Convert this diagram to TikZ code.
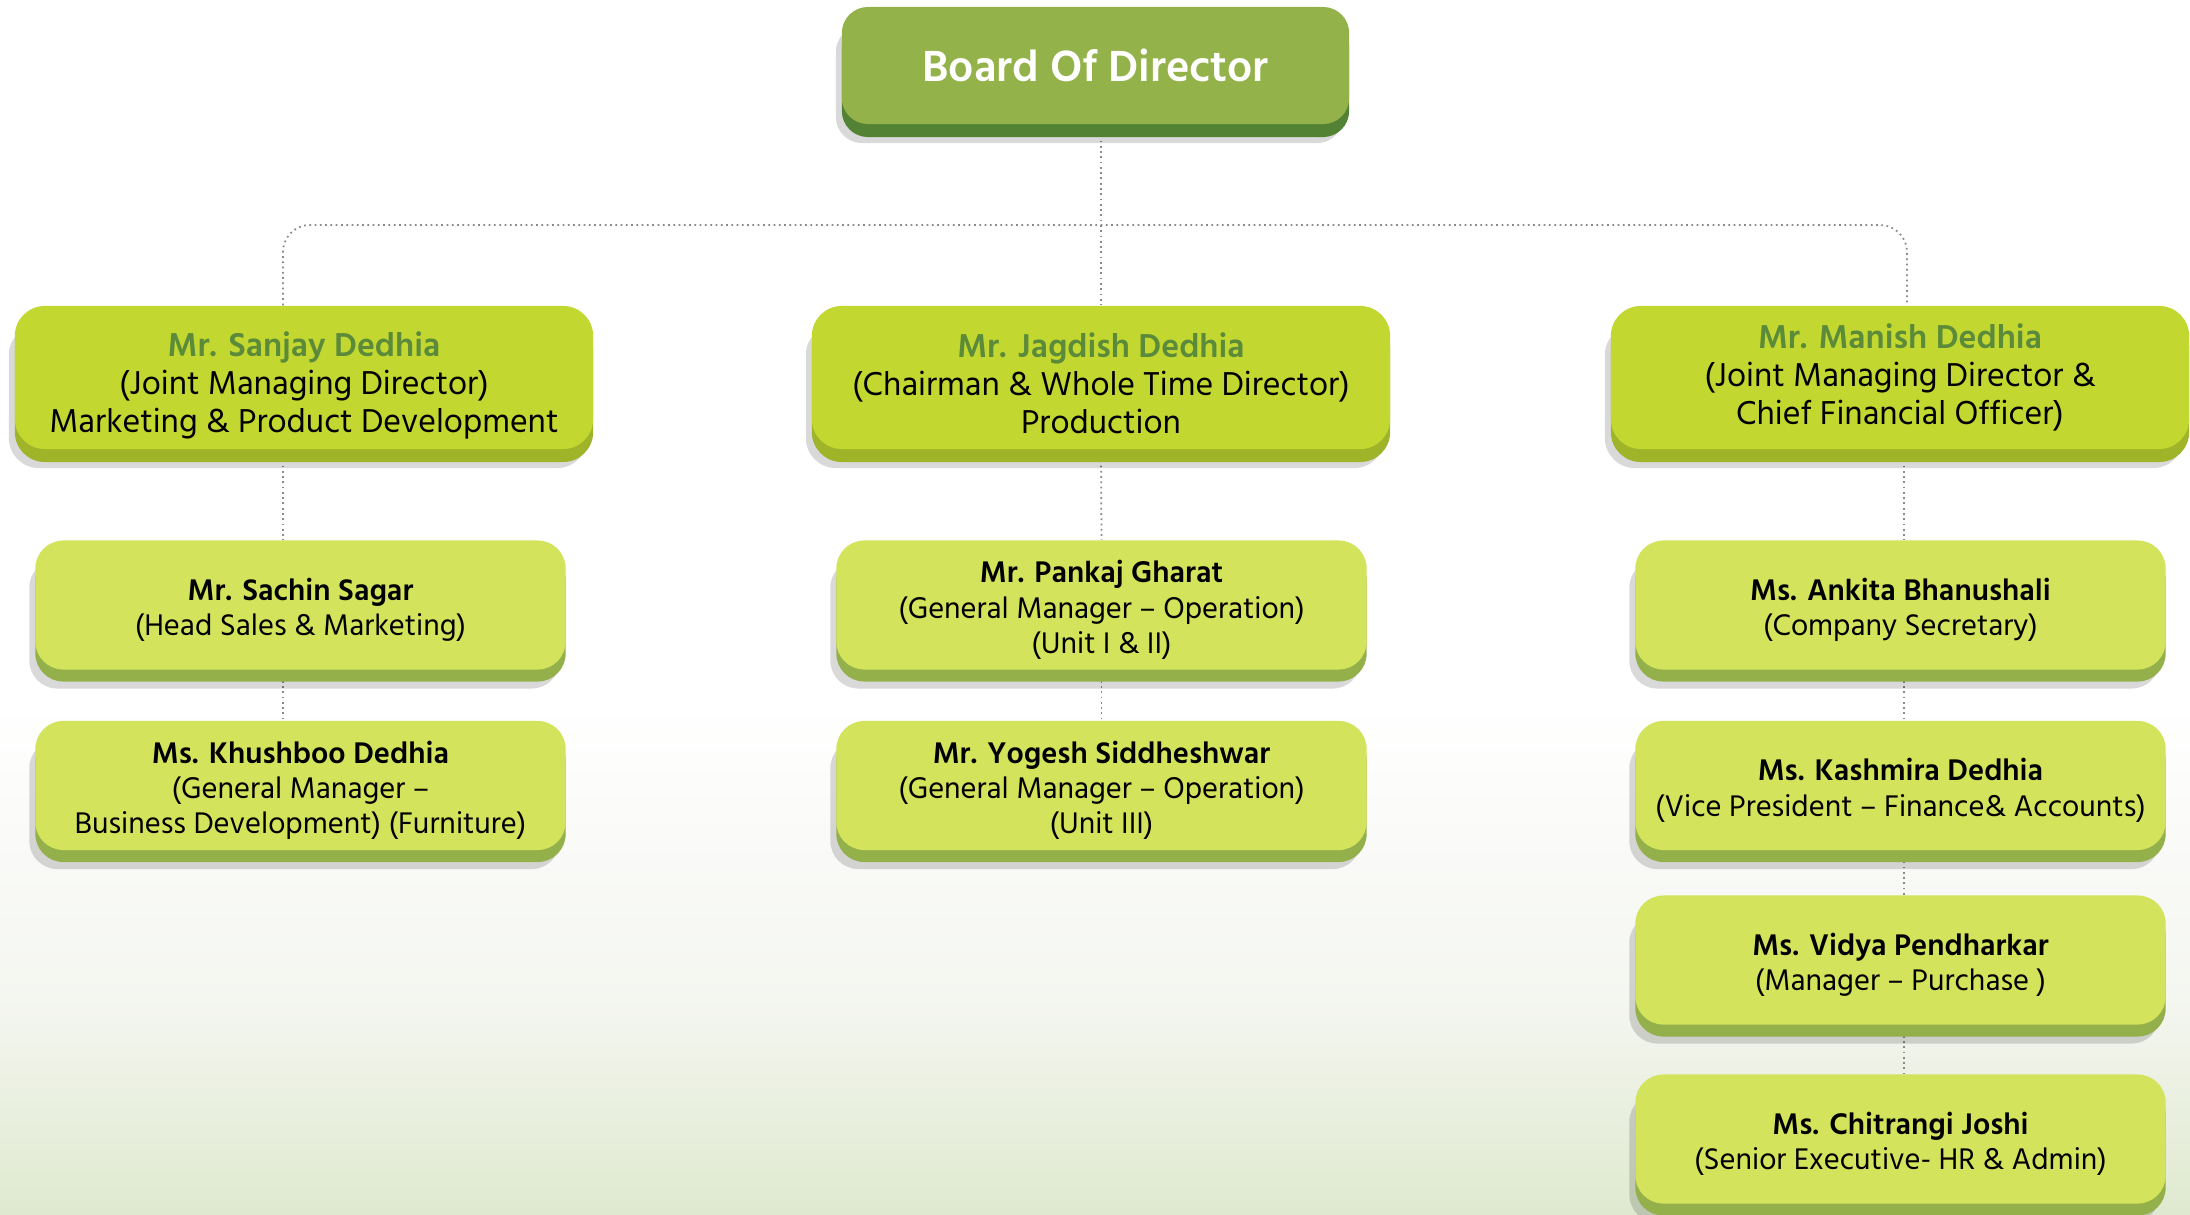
\documentclass[tikz,border=0pt]{standalone}
\usepackage{fontspec}
\setmainfont{Hind Madurai}[BoldFont={Hind Madurai SemiBold}]
\usepackage{tikz}
\usetikzlibrary{shadows,backgrounds}
\definecolor{boardfill}{HTML}{93B24A}
\definecolor{boardband}{HTML}{548235}
\definecolor{headfill}{HTML}{C2D72F}
\definecolor{headband}{HTML}{A0B42A}
\definecolor{stafffill}{HTML}{D3E35B}
\definecolor{staffband}{HTML}{93B04A}
\definecolor{namegreen}{HTML}{5A8A3A}
\definecolor{linkgray}{HTML}{8A8A8A}
\definecolor{bgmid}{HTML}{F4F6F0}
\definecolor{bgbottom}{HTML}{DFE9CF}

\begin{document}
\begin{tikzpicture}[x=0.01cm,y=-0.01cm,
  box/.style={inner sep=0pt, align=center,
    general shadow={fill=black, opacity=.15, shadow xshift=-0.6mm, shadow yshift=-1.9mm}},
  board/.style={box, rounded corners=0.26cm, fill=boardfill,
    preaction={fill=boardband, transform canvas={yshift=-1.3mm}},
    minimum width=5.07cm, minimum height=1.17cm, text=white,
    font=\fontsize{12.7}{15}\selectfont\bfseries},
  head/.style={box, rounded corners=0.3cm, fill=headfill,
    preaction={fill=headband, transform canvas={yshift=-1.3mm}},
    minimum width=5.78cm, minimum height=1.43cm,
    font=\fontsize{9.65}{10.8}\selectfont},
  staff/.style={box, rounded corners=0.28cm, fill=stafffill,
    preaction={fill=staffband, transform canvas={yshift=-1.2mm}},
    minimum width=5.3cm, minimum height=1.29cm,
    font=\fontsize{8.7}{10}\selectfont},
  link/.style={draw=linkgray, densely dotted, line width=0.5pt}]
\useasboundingbox (0,0) rectangle (2190,1215);

\node[board] (board) at (1095.5,65.5) {Board Of Director};

\node[head] (sanjay) at (304,377.5) {\rule{0pt}{1.2em}\textcolor{namegreen}{\bfseries Mr. Sanjay Dedhia}\\(Joint Managing Director)\\Marketing \& Product Development};
\node[head] (jagdish) at (1101,377.5) {\rule{0pt}{1.05em}\textcolor{namegreen}{\bfseries Mr. Jagdish Dedhia}\\(Chairman \& Whole Time Director)\\Production};
\node[head] (manish) at (1900,377.5) {\textcolor{namegreen}{\bfseries Mr. Manish Dedhia}\\(Joint Managing Director \&\\Chief Financial Officer)};

\node[staff] (sachin) at (300.5,605) {\rule{0pt}{1.05em}\textbf{Mr. Sachin Sagar}\\(Head Sales \& Marketing)};
\node[staff] (khushboo) at (300.5,785.5) {\rule{0pt}{1.05em}\textbf{Ms. Khushboo Dedhia}\\(General Manager –\\Business Development) (Furniture)};
\node[staff] (pankaj) at (1101.5,605) {\rule{0pt}{1.05em}\textbf{Mr. Pankaj Gharat}\\(General Manager – Operation)\\(Unit I \& II)};
\node[staff] (yogesh) at (1101.5,785.5) {\rule{0pt}{1.05em}\textbf{Mr. Yogesh Siddheshwar}\\(General Manager – Operation)\\(Unit III)};
\node[staff] (ankita) at (1900.5,605) {\rule{0pt}{1.05em}\textbf{Ms. Ankita Bhanushali}\\(Company Secretary)};
\node[staff] (kashmira) at (1900.5,785.5) {\rule{0pt}{1.05em}\textbf{Ms. Kashmira Dedhia}\\(Vice President – Finance\& Accounts)};
\node[staff] (vidya) at (1900.5,960) {\rule{0pt}{1.05em}\textbf{Ms. Vidya Pendharkar}\\(Manager – Purchase )};
\node[staff] (chitrangi) at (1900.5,1139) {\rule{0pt}{1.05em}\textbf{Ms. Chitrangi Joshi}\\(Senior Executive- HR \& Admin)};

\coordinate (busL) at (283,225);
\coordinate (busR) at (1907,225);
\coordinate (lineR) at (1904,0);

\begin{scope}[on background layer]
\fill[white] (0,0) rectangle (2190,700);
\shade[top color=white, bottom color=bgmid] (0,699) rectangle (2190,1001);
\shade[top color=bgmid, bottom color=bgbottom] (0,1000) rectangle (2190,1215);
\draw[link] (board.south -| jagdish.north) -- (jagdish.north);
\draw[link, rounded corners=0.27cm] (sanjay.north -| busL) |- (busR) -- (manish.north -| busR);
\draw[link] (sanjay.south -| busL) -- (sachin.north -| busL);
\draw[link] (sachin.south -| busL) -- (khushboo.north -| busL);
\draw[link] (jagdish.south) -- (pankaj.north);
\draw[link] (pankaj.south) -- (yogesh.north);
\draw[link] (manish.south -| lineR) -- (ankita.north -| lineR);
\draw[link] (ankita.south -| lineR) -- (kashmira.north -| lineR);
\draw[link] (kashmira.south -| lineR) -- (vidya.north -| lineR);
\draw[link] (vidya.south -| lineR) -- (chitrangi.north -| lineR);
\end{scope}
\end{tikzpicture}
\end{document}
